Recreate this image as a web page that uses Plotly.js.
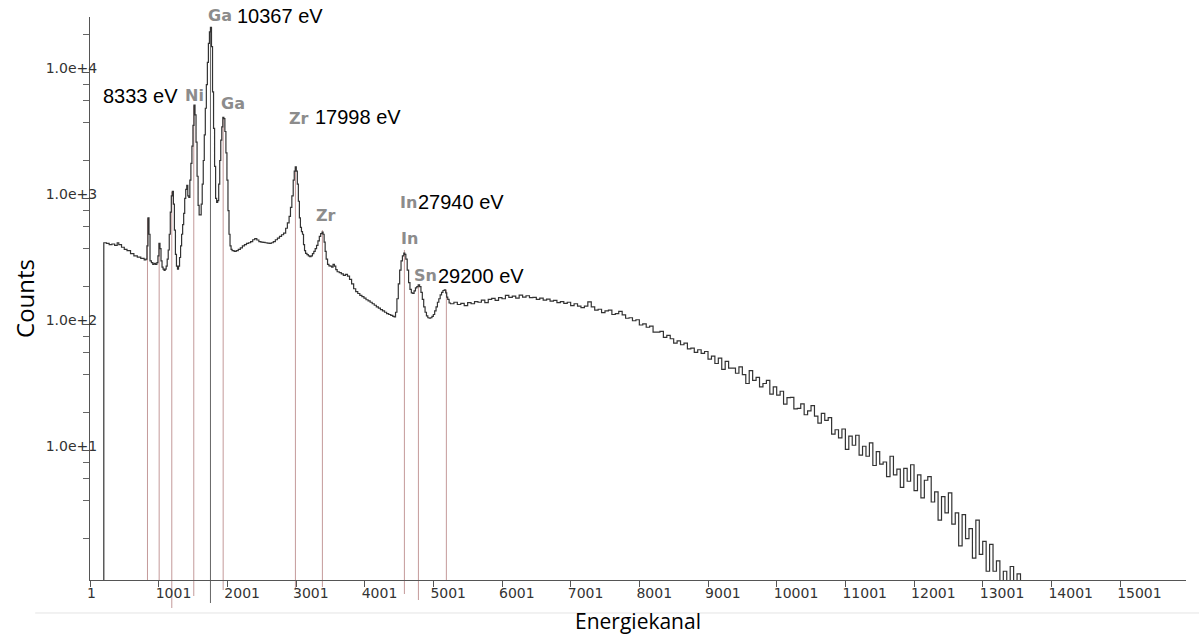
<!DOCTYPE html>
<html>
<head>
<meta charset="utf-8">
<script src="https://cdn.plot.ly/plotly-3.0.1.min.js"></script>
<style>html,body{margin:0;padding:0;background:#fff;}#chart{width:1199px;height:639px;}</style>
</head>
<body>
<div id="chart"></div>
<script>
// ---- data ----
const channels = [
1,202,240,280,320,360,397,420,460,500,540,591,640,690,740,790,
800,815,830,845,860,875,895,915,935,955,975,990,1005,1020,1035,1050,1065,1080,1095,1110,1125,1140,1155,1170,1185,1200,1215,1230,1245,1260,1275,1290,1305,1320,1335,1350,1365,1380,1395,1410,1425,1440,1455,1470,1485,1500,1515,1530,1545,1560,1575,1590,1605,1620,1635,1650,1665,1680,1695,1710,1725,1740,1755,1770,1785,1800,1815,1830,1845,1860,1875,1890,1905,1920,1935,1950,1965,1980,1995,2010,2025,2040,2055,2070,
2100,2130,2160,2190,2220,2250,2280,2310,2340,2370,2400,2430,2460,2490,2520,2550,2580,2610,2640,2670,2700,2730,2760,2790,2820,2850,2875,2900,2920,2940,2960,2975,2990,3005,3020,3035,3050,3065,3080,3095,3110,3125,3140,3160,3180,3200,3220,3240,3260,3280,3300,3320,3340,3360,3380,3395,3410,3425,3440,3460,3480,3500,3520,3540,3560,3580,3600,3630,3660,3690,3720,3750,3780,3810,3840,3870,3900,3930,3960,3990,4020,4050,4080,4110,4140,4170,4200,4230,4260,4290,4320,4350,4380,4410,4430,4450,4470,4490,4510,4530,4550,4570,4585,4600,4620,4640,4660,4680,4700,4720,4740,4760,4780,4800,4820,4840,4860,4880,4900,4920,4940,4960,4980,5000,5020,5040,5060,5080,5100,5120,5140,5160,5180,5195,5210,5230,
5250,5300,5350,5400,5450,5500,5550,5600,5650,5700,5750,5800,5850,5900,5950,6000,6050,6100,6150,6200,6250,6300,6350,6400,6450,6500,6550,6600,6650,6700,6750,6800,6850,6900,6950,
7000,7050,7100,7150,7200,7250,7300,7350,7400,7450,7500,7550,7600,7650,7700,7750,7800,7850,7900,7950,8000,8050,8100,8150,8200,8250,8300,8350,8400,8450,8500,8550,8600,8650,8700,8750,8800,8850,8900,8950,9000,9050,9100,9150,9200,9250,9300,9350,9400,9450,9500,9550,9600,9650,9700,9750,9800,9850,9900,9950,10000,10050,10100,10150,10200,10250,10300,10350,10400,10450,10500,10550,10600,10650,10700,10750,10800,10850,10900,10950,11000,11050,11100,11150,11200,11250,11300,11350,11400,11450,11500,11550,11600,11650,11700,11750,11800,11850,11900,11950,12000,12050,12100,12150,12200,12250,12300,12350,12400,12450,12500,12550,12600,12650,12700,12750,12800,12850,12900,12950,13000,13050,13100,13150,13200,13250,13300,13350,13400,13450,13500,13550,13600,13650,16000
];
const counts = [
0,445,440,430,435,425,445,430,410,395,385,365,350,342,335,325,
325,330,420,700,520,320,310,300,305,300,310,350,440,400,320,285,275,268,275,290,330,390,520,780,1050,1140,900,560,360,290,275,290,340,420,520,620,760,1000,1180,1270,1050,1020,1400,1900,2600,3800,5500,4600,2800,1500,880,740,740,900,1300,2000,3200,5200,8000,12000,17000,21000,22800,16000,7000,3600,1800,1000,930,960,1300,2000,2900,3700,4400,4300,3400,2300,1400,800,520,420,395,385,
380,385,395,405,420,430,440,445,455,470,480,468,455,450,448,445,442,440,445,455,470,485,500,515,530,580,640,720,850,1050,1400,1650,1780,1650,1300,950,700,590,545,520,430,385,366,358,350,345,350,365,380,400,425,460,500,525,540,520,450,380,330,300,292,290,285,300,290,272,262,258,252,245,250,242,228,210,192,182,176,170,166,162,157,154,150,146,142,138,135,131,128,125,122,120,118,116,115,125,160,210,270,320,350,368,360,330,270,215,190,178,176,185,195,200,206,200,180,158,138,125,117,113,112,113,116,120,128,138,150,160,172,180,186,188,178,165,
158,148,146,150,144,147,141,149,146,152,150,156,149,158,161,155,163,160,170,164,168,162,171,165,169,163,164,158,162,156,159,153,155,149,152,
147,150,141,146,140,136,140,151,138,130,132,124,128,130,120,122,127,119,112,113,107,109,99,101,95,97,87,87,88,79,82,77,71,74,69,71,64,65,60,63,59,61,53,56,49,54,44,51,45,45,41,46,40,34,43,36,38,32,34,36,28,32,27.5,29.5,23.3,26.3,26.4,21.4,21.6,23.4,19.2,20.6,22.7,18.7,16.5,19.7,17.3,18.2,13.5,14.6,12.6,14.8,10.2,13.0,11.0,13.2,9.2,10.8,9.0,11.5,7.6,9.8,7.8,8.1,6.2,9.0,6.4,7.1,5.1,7.2,5.7,7.7,4.8,6.4,4.2,5.8,6.2,3.9,4.7,2.8,4.3,3.2,4.6,2.6,3.2,1.75,3.1,2.0,2.4,1.4,2.8,1.5,1.9,1.1,1.8,1.1,1.33,0,1.1,0,1.2,0,1.05,0,0
];

// peak marker lines (channel, count at top)
const markerChannels = [838,1008,1192,1512,1755,1940,2992,3385,4579,4783,5190];
const markerTops     = [697,441,1130,5470,22800,4350,1750,560,390,205,187];

// x tick labels
const xTickVals = [1,1001,2001,3001,4001,5001,6001,7001,8001,9001,10001,11001,12001,13001,14001,15001];
const xTickText = xTickVals.map(String);
// y tick labels
const yTickVals = [10,100,1000,10000];
const yTickText = ["1.0e+1","1.0e+2","1.0e+3","1.0e+4"];
const yMinorVals = [2,4,6,8,20,40,60,80,200,400,600,800,2000,4000,6000,8000,20000];

// peak labels
const elemLabels = ["Ga","Ni","Ga","Zr","Zr","In","In","Sn"];
const elemChannels = [1697,1348,1886,2876,3269,4492,4506,4696];
const energyLabels = ["10367 eV","8333 eV","17998 eV","27940 eV","29200 eV"];
const energyChannels = [2119,154,3254,4753,5045];

// ---- styling / placement ----
const elemY = [1.002,0.8597,0.8455,0.8206,0.6483,0.6714,0.6057,0.540];
const energyY = [1.002,0.8597,0.8224,0.6714,0.540];
const markerColors = ["#c49a9a","#c49a9a","#c49a9a","#c49a9a","#666666","#c49a9a","#c49a9a","#c49a9a","#c49a9a","#c49a9a","#c49a9a"];
const markerTailPx = [0,0,28,16,23,10,10,7,14,20,1];
const plotH = 563;

// empty channels cannot sit on a log axis: draw them at a floor below the visible range
const plotCounts = counts.map(v => v > 0 ? v : 1e-3);

const trace = {
  x: channels, y: plotCounts, type: 'scatter', mode: 'lines',
  line: {shape: 'hv', color: '#333333', width: 1.2},
  hoverinfo: 'x+y', showlegend: false
};

const shapes = [];
markerChannels.forEach((c, i) => {
  shapes.push({type:'line', xref:'x', yref:'y', x0:c, x1:c, y0:markerTops[i], y1:1e-3,
    line:{color:markerColors[i], width:1}, layer:'below'});
  if (markerTailPx[i] > 1) {
    shapes.push({type:'line', xref:'x', yref:'paper', x0:c, x1:c, y0:0, y1:-markerTailPx[i]/plotH,
      line:{color:markerColors[i], width:1}, layer:'below'});
  }
});
// light separator line under the tick labels
shapes.push({type:'line', xref:'paper', yref:'paper', x0:-0.05, x1:1.012, y0:-0.0586, y1:-0.0586,
  line:{color:'#e4e4e4', width:1}});

const annotations = [];
elemLabels.forEach((t, i) => annotations.push({
  text: t, xref:'x', yref:'paper', x: elemChannels[i], y: elemY[i], xanchor:'left', yanchor:'middle',
  showarrow:false, font:{family:'DejaVu Sans', size:16, color:'#8c8c8c', weight:'bold'}
}));
energyLabels.forEach((t, i) => annotations.push({
  text: t, xref:'x', yref:'paper', x: energyChannels[i], y: energyY[i], xanchor:'left', yanchor:'middle',
  showarrow:false, font:{family:'Liberation Sans, Arial', size:20, color:'#000'}
}));

const layout = {
  width: 1199, height: 639,
  margin: {l: 90, r: 13, t: 17, b: 59, pad: 0},
  paper_bgcolor: '#fff', plot_bgcolor: '#fff',
  showlegend: false,
  xaxis: {
    range: [1, 15960], showgrid: false, zeroline: false,
    showline: true, linecolor: '#555', linewidth: 1,
    ticks: 'outside', ticklen: 6, tickcolor: '#555', tickwidth: 1,
    tickmode: 'array', tickvals: xTickVals, ticktext: xTickText,
    ticklabelposition: 'outside right', ticklabelshift: -4,
    tickfont: {family: 'DejaVu Sans', size: 14, color: '#333'},
    title: {text: 'Energiekanal', font: {family: 'Open Sans', size: 21, color: '#000'}, standoff: 14},
    automargin: false
  },
  yaxis: {
    type: 'log', range: [-0.028, 4.44], showgrid: false, zeroline: false,
    showline: true, linecolor: '#555', linewidth: 1,
    ticks: 'outside', ticklen: 6, tickcolor: '#555', tickwidth: 1,
    tickmode: 'array', tickvals: yTickVals, ticktext: yTickText,
    ticklabelstandoff: -17, ticklabelshift: -4,
    tickfont: {family: 'DejaVu Sans', size: 14, color: '#333'},
    minor: {tickmode: 'array', tickvals: yMinorVals, ticks: 'outside', ticklen: 6, tickcolor: '#666', showgrid: false},
    title: {text: 'Counts', font: {family: 'Open Sans', size: 24, color: '#000'}, standoff: 4},
    automargin: false
  },
  shapes: shapes,
  annotations: annotations
};

Plotly.newPlot('chart', [trace], layout, {displayModeBar: false, staticPlot: true});
</script>
</body>
</html>
